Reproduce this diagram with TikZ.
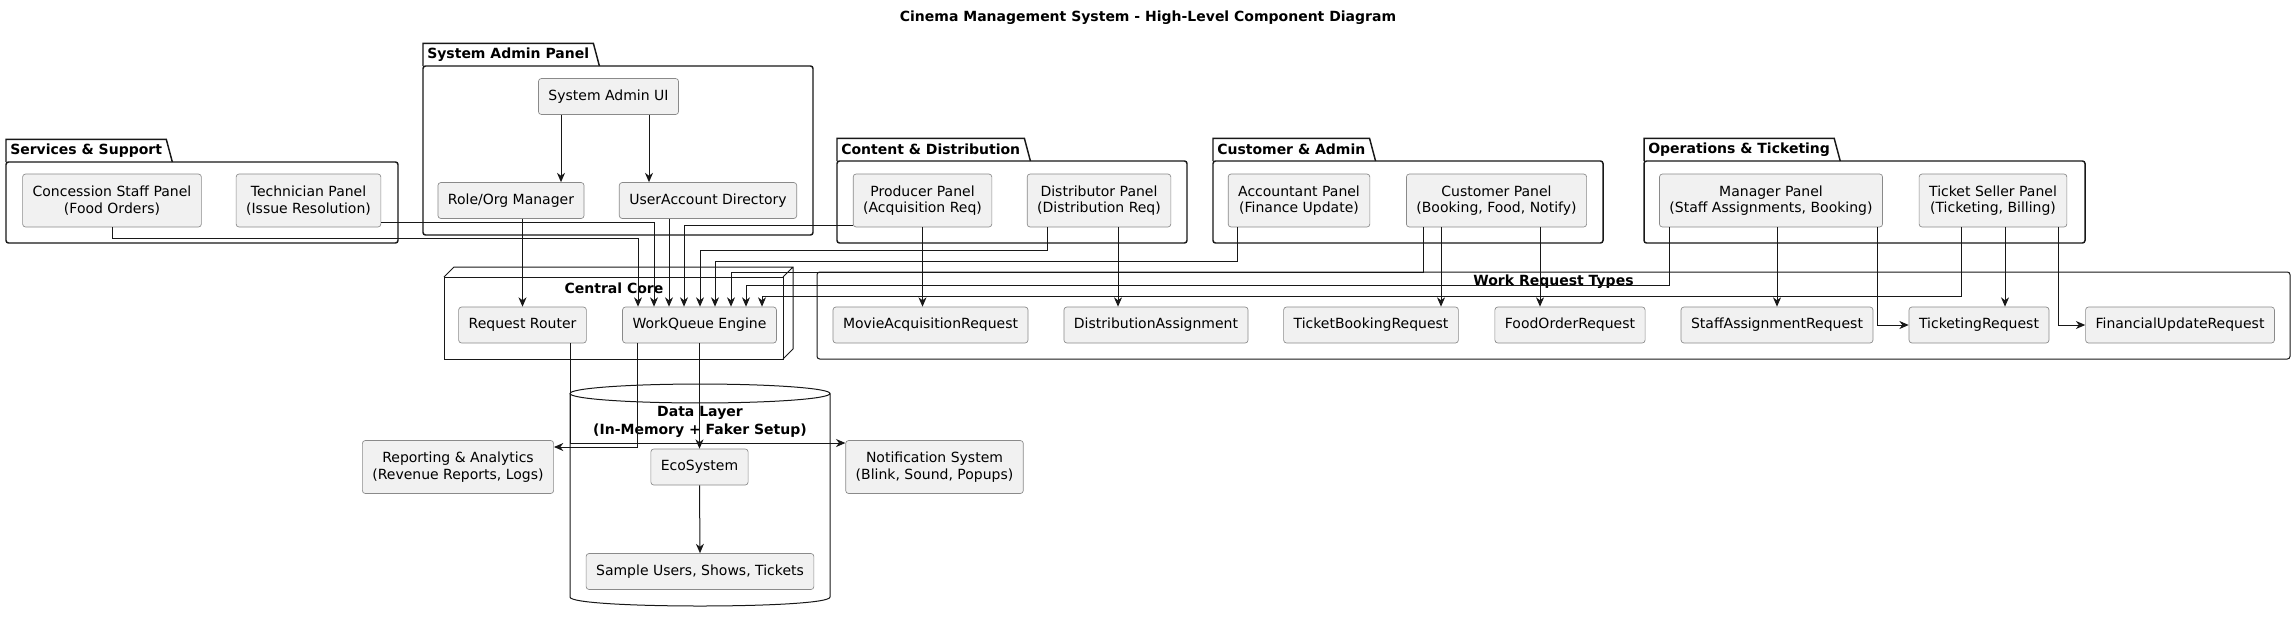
\documentclass[tikz,border=0pt]{standalone}
\usepackage{fontspec}
\setmainfont{DejaVu Sans}
\usepackage{tikz}
\usetikzlibrary{arrows.meta, calc}
\definecolor{umlink}{HTML}{181818}
\definecolor{umlbox}{HTML}{F1F1F1}
\definecolor{umledge}{HTML}{8A8A8A}

\begin{document}
\begin{tikzpicture}[x=0.75pt, y=-0.75pt,
  comp/.style={draw=umledge, line width=0.5pt, fill=umlbox, rounded corners=2.2pt, inner xsep=7.5pt, inner ysep=0pt, minimum height=27pt, align=center, font=\fontsize{10.5}{12.2}\selectfont},
  comptwo/.style={comp, minimum height=39.75pt},
  pkg/.style={draw=umlink, line width=1.1pt},
  pkgtab/.style={font=\bfseries\fontsize{10.5}{12}\selectfont, anchor=south west, inner xsep=3pt, inner ysep=0pt, minimum height=16.5pt},
  grp/.style={draw=umlink, line width=0.75pt},
  grplabel/.style={font=\bfseries\fontsize{10.5}{13.5}\selectfont, align=center, inner sep=0pt},
  arr/.style={draw=umlink, line width=0.75pt, -{Stealth[length=7pt, width=6pt, inset=2.2pt]}}]
\fill[white] (0,0) rectangle (2296,622);
\useasboundingbox (0,0) rectangle (2296,622);
\node[font=\bfseries\fontsize{10.5}{12}\selectfont] (title) at (1148,18) {Cinema Management System - High-Level Component Diagram};

\draw[pkg, rounded corners=1.9pt] (6,162) rectangle (398,243);
\node[pkgtab] (services) at (6,162) {Services \& Support};
\draw[pkg] (services.south west) -- (services.north west) -- (services.north east) -- ($(services.south east)+(6,0)$);
\draw[pkg, rounded corners=1.9pt] (423,66) rectangle (813,235);
\node[pkgtab] (sysadmin) at (423,66) {System Admin Panel};
\draw[pkg] (sysadmin.south west) -- (sysadmin.north west) -- (sysadmin.north east) -- ($(sysadmin.south east)+(6,0)$);
\draw[pkg, rounded corners=1.9pt] (837,161) rectangle (1187,243);
\node[pkgtab] (content) at (837,161) {Content \& Distribution};
\draw[pkg] (content.south west) -- (content.north west) -- (content.north east) -- ($(content.south east)+(6,0)$);
\draw[pkg, rounded corners=1.9pt] (1213,161) rectangle (1603,243);
\node[pkgtab] (custadmin) at (1213,161) {Customer \& Admin};
\draw[pkg] (custadmin.south west) -- (custadmin.north west) -- (custadmin.north east) -- ($(custadmin.south east)+(6,0)$);
\draw[pkg, rounded corners=1.9pt] (1644,161) rectangle (2085,243);
\node[pkgtab] (operations) at (1644,161) {Operations \& Ticketing};
\draw[pkg] (operations.south west) -- (operations.north west) -- (operations.north east) -- ($(operations.south east)+(6,0)$);

\draw[grp] (444,277) rectangle (783,359);
\draw[grp] (444,277) -- (454,267) -- (793,267) -- (793,349) -- (783,359) (783,277) -- (793,267);
\node[grplabel] (corelabel) at (614,288) {Central Core};
\draw[grp, rounded corners=2pt] (817,272) rectangle (2290,359);
\node[grplabel] (typeslabel) at (1553.5,282) {Work Request Types};
\draw[grp] (570,393.5) -- (570,597) .. controls (570,609) and (830,609) .. (830,597) -- (830,393.5);
\draw[grp] (700,393.5) ellipse [x radius=97.5pt, y radius=7.1pt];
\node[grplabel] (datalabel) at (700,422) {Data Layer\\(In-Memory + Faker Setup)};

\node[comp] (sysui) at (608.5,96.5) {System Admin UI};
\node[comp] (roleorg) at (511,200.5) {Role/Org Manager};
\node[comp] (useracct) at (708,200.5) {UserAccount Directory};
\node[comptwo] (concession) at (112,200.5) {Concession Staff Panel\\(Food Orders)};
\node[comptwo] (technician) at (308.5,200.5) {Technician Panel\\(Issue Resolution)};
\node[comptwo] (producer) at (922.5,200.5) {Producer Panel\\(Acquisition Req)};
\node[comptwo] (distributor) at (1099,200.5) {Distributor Panel\\(Distribution Req)};
\node[comptwo] (accountant) at (1299,200.5) {Accountant Panel\\(Finance Update)};
\node[comptwo] (customer) at (1496.5,200.5) {Customer Panel\\(Booking, Food, Notify)};
\node[comptwo] (manager) at (1771,200.5) {Manager Panel\\(Staff Assignments, Booking)};
\node[comptwo] (seller) at (1993,200.5) {Ticket Seller Panel\\(Ticketing, Billing)};

\node[comp] (router) at (522.5,325) {Request Router};
\node[comp] (wq) at (699.5,325) {WorkQueue Engine};
\node[comp] (movieacq) at (930.5,325) {MovieAcquisitionRequest};
\node[comp] (distassign) at (1156,325) {DistributionAssignment};
\node[comp] (ticketbooking) at (1371,325) {TicketBookingRequest};
\node[comp] (foodorder) at (1570,325) {FoodOrderRequest};
\node[comp] (staffassign) at (1777,325) {StaffAssignmentRequest};
\node[comp] (ticketing) at (1979,325) {TicketingRequest};
\node[comp] (financial) at (2180,325) {FinancialUpdateRequest};

\node[comptwo] (reporting) at (458,467) {Reporting \& Analytics\\(Revenue Reports, Logs)};
\node[comp] (eco) at (699.5,467) {EcoSystem};
\node[comptwo] (notification) at (934.5,467) {Notification System\\(Blink, Sound, Popups)};
\node[comp] (sample) at (700,571.5) {Sample Users, Shows, Tickets};

\foreach \i/\dx in {1/-61.5,2/-45.5,3/-30.5,4/-15.5,5/0.5,6/15.5,7/31.5,8/46.5,9/62.5}
  \coordinate (wqin\i) at ($(wq.north)+(\dx,0)$);
\draw[arr] (concession.south) -- ++(0,11) -| (wqin1);
\draw[arr] ($(technician.east)+(0,21.5)$) -| (wqin2);
\draw[arr] (useracct.south -| wqin3) -- (wqin3);
\draw[arr] ($(producer.west)+(0,24.5)$) -| (wqin4);
\draw[arr] ($(distributor.south)+(-52,0)$) -- ++(0,23.5) -| (wqin5);
\draw[arr] ($(accountant.south)+(-62,0)$) -- ++(0,34.5) -| (wqin6);
\draw[arr] ($(customer.south)+(-73.5,0)$) -- ++(0,45.5) -| (wqin7);
\draw[arr] ($(manager.south)+(-102,0)$) -- ++(0,58.5) -| (wqin8);
\draw[arr] ($(seller.south)+(-32,0)$) -- ++(0,69.5) -| (wqin9);

\draw[arr] ($(sysui.south)+(-47.5,0)$) coordinate (a1) -- (a1 |- roleorg.north);
\draw[arr] ($(sysui.south)+(40.5,0)$) coordinate (a2) -- (a2 |- useracct.north);
\draw[arr] (roleorg.south -| router.north) -- (router.north);
\draw[arr] (producer.south) -- (producer.south |- movieacq.north);
\draw[arr] ($(distributor.south)+(19,0)$) coordinate (a3) -- (a3 |- distassign.north);
\draw[arr] ($(customer.south)+(-55.5,0)$) coordinate (a4) -- (a4 |- ticketbooking.north);
\draw[arr] ($(customer.south)+(43.5,0)$) coordinate (a5) -- (a5 |- foodorder.north);
\draw[arr] (manager.south -| staffassign.north) -- (staffassign.north);
\draw[arr] ($(manager.south)+(106,0)$) |- (ticketing.west);
\draw[arr] ($(seller.south)+(12,0)$) coordinate (a6) -- (a6 |- ticketing.north);
\draw[arr] ($(seller.south)+(65,0)$) |- (financial.west);
\draw[arr] (wq.south) -- (eco.north);
\draw[arr] ($(wq.south)+(-62,0)$) |- ($(reporting.east)+(0,-20)$);
\draw[arr] ($(router.south)+(47.5,0)$) |- ($(notification.west)+(0,-24)$);
\draw[arr] (eco.south) -- (sample.north);
\end{tikzpicture}
\end{document}
